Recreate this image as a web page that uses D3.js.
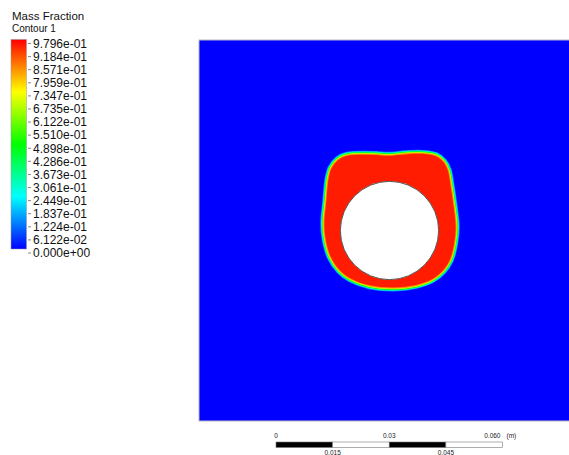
<!DOCTYPE html>
<html>
<head>
<meta charset="utf-8">
<script src="https://cdn.jsdelivr.net/npm/d3@7"></script>
<style>
  body { margin: 0; background: #fff; }
  svg { display: block; font-family: "Liberation Sans", Arial, sans-serif; }
</style>
</head>
<body>
<script>
// legend levels of the mass fraction
let levels = [0, 0.06122, 0.1224, 0.1837, 0.2449, 0.3061, 0.3673, 0.4286, 0.4898,
              0.5510, 0.6122, 0.6735, 0.7347, 0.7959, 0.8571, 0.9184, 0.9796];
let levelLabels = ["0.000e+00", "6.122e-02", "1.224e-01", "1.837e-01", "2.449e-01",
                   "3.061e-01", "3.673e-01", "4.286e-01", "4.898e-01", "5.510e-01",
                   "6.122e-01", "6.735e-01", "7.347e-01", "7.959e-01", "8.571e-01",
                   "9.184e-01", "9.796e-01"];

// edge of the high fraction region round the cylinder: angle (deg, from +x), radius (mm)
let edgeAngles = [4, 21, 38, 46, 52, 58, 64, 75, 92, 100, 120, 126, 133, 140, 154, 174,
                  188, 204, 219, 231, 250, 274, 296, 312, 323, 334, 349];
let edgeRadii  = [17.4, 18.0, 20.2, 22.0, 22.9, 23.0, 22.3, 20.8, 19.6, 20.1, 22.6, 22.9, 22.3, 20.9, 18.4, 17.2,
                  16.9, 16.9, 16.7, 16.2, 15.3, 15.0, 15.9, 17.0, 17.5, 17.6, 17.3];
let insideValue = 0.95;   // fraction inside that region
let outsideValue = 0;     // fraction in the rest of the domain

// cylinder centre (m) and radius (m), domain size (m)
let cylCenter = [0.05, 0.05];
let cylRadius = 0.0129;
let domainSize = [0.1, 0.1];

// scale bar
let barTicks = [0, 0.015, 0.03, 0.045, 0.06];
let barLabels = ["0", "0.015", "0.03", "0.045", "0.060"];

let width = 569, height = 455;
let svg = d3.select("body").append("svg")
  .attr("width", width)
  .attr("height", height);

// rainbow colour map like the solver's default
let vmax = levels[levels.length - 1];
let color = d3.scaleLinear()
  .domain([0, vmax * 0.25, vmax * 0.5, vmax * 0.75, vmax])
  .range(["#0000ff", "#00ffff", "#00ff00", "#ffff00", "#ff0000"])
  .clamp(true);

// ---- domain ----
let x = d3.scaleLinear().domain([0, domainSize[0]]).range([199, 580]);
let y = d3.scaleLinear().domain([0, domainSize[1]]).range([421, 40]);

svg.append("rect")
  .attr("x", x(0)).attr("y", y(domainSize[1]))
  .attr("width", x(domainSize[0]) - x(0))
  .attr("height", y(0) - y(domainSize[1]))
  .attr("fill", color(outsideValue))
  .attr("stroke", "#b8b8c8").attr("stroke-width", 1);

let pxPerMm = (x(0.001) - x(0));
let edgePts = edgeAngles.map((a, i) => [a, edgeRadii[i]]);
let edge = d3.lineRadial()
  .angle(d => Math.PI / 2 - d[0] * Math.PI / 180)
  .radius(d => d[1] * pxPerMm)
  .curve(d3.curveCatmullRomClosed.alpha(0.5));

let defs = svg.append("defs");
defs.append("filter").attr("id", "soft")
  .append("feGaussianBlur").attr("stdDeviation", 0.5);

let blob = svg.append("g")
  .attr("transform", `translate(${x(cylCenter[0])},${y(cylCenter[1])})`)
  .attr("filter", "url(#soft)");

// transition band from outside to inside value
let bands = [[0.14, 8], [0.3, 6.5], [0.5, 5], [0.7, 3.5], [0.86, 2]];
bands.forEach(b => {
  blob.append("path")
    .attr("d", edge(edgePts))
    .attr("fill", "none")
    .attr("stroke", color(b[0] * vmax))
    .attr("stroke-width", b[1])
    .attr("stroke-linejoin", "round");
});
blob.append("path")
  .attr("d", edge(edgePts))
  .attr("fill", color(insideValue));

svg.append("circle")
  .attr("cx", x(cylCenter[0]))
  .attr("cy", y(cylCenter[1]))
  .attr("r", x(cylRadius) - x(0))
  .attr("fill", "#fff")
  .attr("stroke", "#555")
  .attr("stroke-width", 1);

// ---- legend ----
svg.append("text").attr("x", 12).attr("y", 19.5)
  .attr("font-size", 11.5).attr("fill", "#111").text("Mass Fraction");
svg.append("text").attr("x", 12).attr("y", 31.5)
  .attr("font-size", 10).attr("fill", "#111").text("Contour 1");

let grad = defs.append("linearGradient").attr("id", "cmap")
  .attr("x1", 0).attr("y1", 1).attr("x2", 0).attr("y2", 0);
d3.range(0, 1.0001, 0.05).forEach(t => {
  grad.append("stop").attr("offset", t).attr("stop-color", color(t * vmax));
});

let ly = d3.scaleLinear().domain([0, vmax]).range([253, 43.5]);

svg.append("rect")
  .attr("x", 11).attr("y", 39.5)
  .attr("width", 15.5).attr("height", 209.5)
  .attr("fill", "url(#cmap)")
  .attr("stroke", "#999").attr("stroke-width", 0.5);

let lg = svg.append("g").selectAll("g")
  .data(levels)
  .enter().append("g")
  .attr("transform", d => `translate(0,${ly(d)})`);
lg.append("line")
  .attr("x1", 28).attr("x2", 31)
  .attr("stroke", "#666").attr("stroke-width", 0.8);
lg.append("text")
  .attr("x", 33).attr("dy", "0.36em")
  .attr("font-size", 12).attr("fill", "#111")
  .text((d, i) => levelLabels[i]);

// ---- scale bar ----
let sb = d3.scaleLinear().domain([0, barTicks[barTicks.length - 1]]).range([276, 502.5]);
let segs = d3.pairs(barTicks);
svg.append("g").selectAll("rect")
  .data(segs)
  .enter().append("rect")
  .attr("x", d => sb(d[0])).attr("y", 442)
  .attr("width", d => sb(d[1]) - sb(d[0])).attr("height", 5.5)
  .attr("fill", (d, i) => i % 2 ? "#fff" : "#000")
  .attr("stroke", "#777").attr("stroke-width", 0.6);

barTicks.forEach((t, i) => {
  let top = i % 2 === 0;
  let last = i === barTicks.length - 1;
  svg.append("text")
    .attr("x", last ? sb(t) - 2 : sb(t))
    .attr("y", top ? 438 : 455)
    .attr("text-anchor", last ? "end" : "middle")
    .attr("font-size", 6.5).attr("fill", "#222")
    .text(barLabels[i]);
});
svg.append("text")
  .attr("x", sb(barTicks[barTicks.length - 1]) + 4).attr("y", 438)
  .attr("font-size", 6.5).attr("fill", "#222")
  .text("(m)");
</script>
</body>
</html>
